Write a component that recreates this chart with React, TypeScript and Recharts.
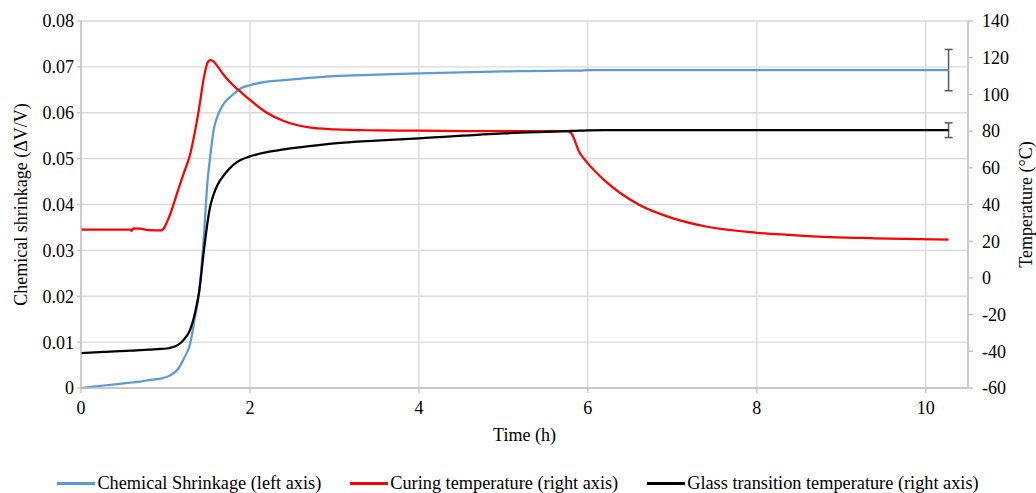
import { CartesianGrid, ErrorBar, Legend, Line, LineChart, XAxis, YAxis } from 'recharts'

const time = [
  0, 0.3, 0.58, 0.6, 0.62, 0.7, 0.8, 0.95, 1.05, 1.15, 1.22, 1.29, 1.35, 1.4, 1.45, 1.5, 1.53, 1.57, 1.62, 1.7, 1.8,
  1.9, 2.0, 2.2, 2.4, 2.7, 3.0, 3.5, 4.0, 5.0, 5.75, 5.8, 5.9, 6.0, 6.2, 6.6, 7.0, 7.4, 8.0, 8.6, 9.4, 10.27,
]

// left axis, ΔV/V
const shrinkage = [
  0, 0.0006, 0.00116, 0.0012, 0.00124, 0.0014, 0.0017, 0.0021, 0.0027, 0.0042, 0.0065, 0.0095, 0.0155, 0.021, 0.032,
  0.0455, 0.0505, 0.0562, 0.0595, 0.0622, 0.064, 0.0654, 0.066, 0.0668, 0.0671, 0.0676, 0.068, 0.0683, 0.0686, 0.069,
  0.0692, 0.0692, 0.0692, 0.0693, 0.0693, 0.0693, 0.0693, 0.0693, 0.0693, 0.0693, 0.0693, 0.0693,
]

// right axis, °C
const curingTemp = [
  26.3, 26.3, 26.3, 25.6, 27.0, 26.8, 26.1, 25.9, 34, 48, 57.5, 67, 80, 93, 108, 117.5, 118.7, 118, 115, 110, 105, 101,
  97, 90, 85.5, 82, 81, 80.4, 80.2, 80, 80, 79, 68.5, 62.4, 53, 40, 32.6, 28, 24.6, 22.8, 21.6, 20.8,
]

const glassTemp = [
  -41, -40.3, -39.68, -39.62, -39.58, -39.4, -39.1, -38.7, -38.2, -36.5, -33.5, -28.5, -19, -7, 13, 31, 39, 45.5, 51,
  56.5, 61.5, 64.5, 66.2, 68.5, 70, 71.8, 73.3, 74.8, 76, 78.8, 80, 80.1, 80.2, 80.4, 80.5, 80.5, 80.5, 80.5, 80.5,
  80.5, 80.5, 80.5,
]

// error bars shown on the last point only
const shrinkageError = 0.0045
const glassTempError = 4

const timeTicks = [0, 2, 4, 6, 8, 10]
const shrinkageTicks = [0, 0.01, 0.02, 0.03, 0.04, 0.05, 0.06, 0.07, 0.08]
const tempTicks = [-60, -40, -20, 0, 20, 40, 60, 80, 100, 120, 140]

const FONT = 'Liberation Serif'
const last = time.length - 1

const data = time.map((t, i) => ({
  t,
  shrinkage: shrinkage[i],
  curing: curingTemp[i],
  tg: glassTemp[i],
  shrinkageErr: i === last ? shrinkageError : null,
  tgErr: i === last ? glassTempError : null,
}))

const tickStyle = { fontFamily: FONT, fontSize: 18, fill: '#000' }

const renderLegend = (props: any) => (
  <div
    style={{
      display: 'flex',
      justifyContent: 'center',
      height: 14,
      lineHeight: '14px',
      fontFamily: FONT,
      fontSize: 18.3,
      color: '#000',
      whiteSpace: 'nowrap',
      transform: 'translateY(-3px)',
    }}
  >
    {props.payload.map((p: any, i: number) => (
      <div key={i} style={{ display: 'flex', alignItems: 'center', marginLeft: i ? 29 : 0 }}>
        <span style={{ display: 'inline-block', width: 38, height: 3, background: p.color, marginRight: 2 }} />
        <span>{p.value}</span>
      </div>
    ))}
  </div>
)

export default function App() {
  return (
    <div style={{ position: 'absolute', left: 0, top: 0, fontFamily: FONT }}>
      <LineChart
        width={1036}
        height={493}
        data={data}
        margin={{ top: 21, right: 0, left: 0, bottom: 0 }}
        style={{ fontFamily: FONT }}
      >
        <CartesianGrid yAxisId='left' stroke='#D9D9D9' strokeWidth={1.3} />
        <XAxis
          dataKey='t'
          type='number'
          domain={[0, 10.5]}
          ticks={timeTicks}
          height={91}
          stroke='#BFBFBF'
          strokeWidth={1.3}
          tickSize={5}
          tickMargin={8}
          tick={tickStyle}
          label={{ value: 'Time (h)', position: 'insideTop', offset: 40, style: tickStyle }}
        />
        <YAxis
          yAxisId='left'
          domain={[0, 0.08]}
          ticks={shrinkageTicks}
          width={81}
          stroke='#BFBFBF'
          strokeWidth={1.3}
          tickSize={4}
          tickMargin={3}
          tick={tickStyle}
          tickFormatter={(v: number) => (v === 0 ? '0' : v.toFixed(2))}
          label={{ value: 'Chemical shrinkage (ΔV/V)', angle: -90, position: 'center', dx: -20, style: tickStyle }}
        />
        <YAxis
          yAxisId='right'
          orientation='right'
          domain={[-60, 140]}
          ticks={tempTicks}
          width={68}
          stroke='#BFBFBF'
          strokeWidth={1.3}
          tickSize={5}
          tickMargin={9}
          tick={tickStyle}
          label={{ value: 'Temperature (°C)', angle: -90, position: 'center', dx: 24, style: tickStyle }}
        />
        <Legend verticalAlign='bottom' content={renderLegend} />
        <Line
          yAxisId='left'
          dataKey='shrinkage'
          name='Chemical Shrinkage (left axis)'
          type='monotone'
          stroke='#5B9BD5'
          strokeWidth={2.25}
          dot={false}
          isAnimationActive={false}
        >
          <ErrorBar dataKey='shrinkageErr' direction='y' width={4} stroke='#595959' strokeWidth={1.5} />
        </Line>
        <Line
          yAxisId='right'
          dataKey='curing'
          name='Curing temperature (right axis)'
          type='monotone'
          stroke='#FF0000'
          strokeWidth={2.25}
          dot={false}
          isAnimationActive={false}
        />
        <Line
          yAxisId='right'
          dataKey='tg'
          name='Glass transition temperature (right axis)'
          type='monotone'
          stroke='#000000'
          strokeWidth={2.25}
          dot={false}
          isAnimationActive={false}
        >
          <ErrorBar dataKey='tgErr' direction='y' width={4} stroke='#595959' strokeWidth={1.5} />
        </Line>
      </LineChart>
    </div>
  )
}
